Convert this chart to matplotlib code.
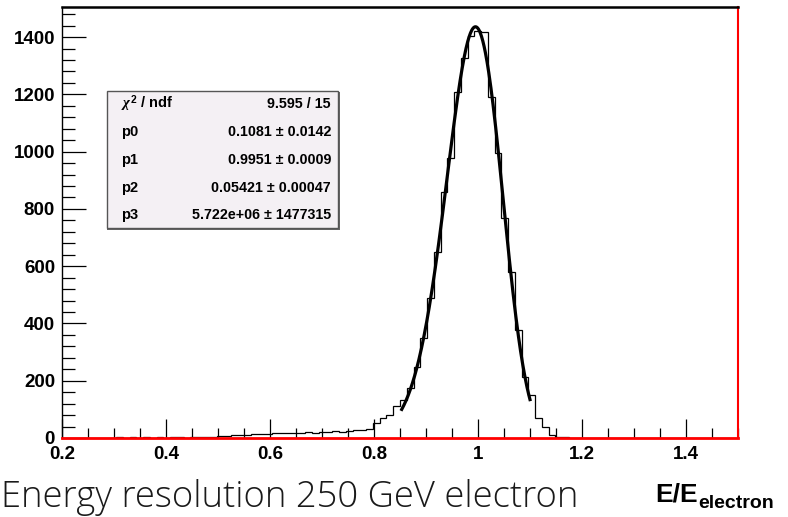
import numpy as np
import matplotlib
matplotlib.use("Agg")
import matplotlib.pyplot as plt
from matplotlib.patches import Rectangle
from matplotlib.ticker import MultipleLocator

plt.rcParams["font.family"] = ["Liberation Sans", "DejaVu Sans"]
plt.rcParams["font.weight"] = "bold"
plt.rcParams["mathtext.fontset"] = "custom"
plt.rcParams["mathtext.rm"] = "Liberation Sans:bold"
plt.rcParams["mathtext.bf"] = "Liberation Sans:bold"
plt.rcParams["mathtext.it"] = "Liberation Serif:italic"

# histogram: 100 bins between 0.2 and 1.5
x_min, x_max, n_bins = 0.2, 1.5, 100
counts = [0, 1, 0, 0, 1, 0, 1, 0, 2, 1,
          2, 1, 3, 1, 2, 1, 3, 2, 1, 2,
          4, 3, 5, 6, 7, 9, 11, 12, 14, 13,
          15, 16, 17, 18, 17, 19, 20, 19, 21, 22,
          23, 22, 25, 28, 29, 32, 53, 70, 80, 113,
          133, 175, 249, 349, 489, 650, 860, 977, 1209, 1327,
          1405, 1422, 1417, 1191, 995, 768, 579, 377, 214, 150,
          70, 39, 10, 4, 3, 1, 1, 0, 0, 0,
          0, 0, 0, 0, 0, 0, 0, 0, 0, 0,
          0, 0, 0, 0, 0, 0, 0, 0, 0, 0]

# fit result (Novosibirsk shape), as printed in the stats box
p0, p1, p2 = -0.1081, 0.9951, 0.05421
fit_peak = 1436
fit_lo, fit_hi = 0.8533, 1.100

stat_labels = [r"$\chi^{2}$ / ndf", "p0", "p1", "p2", "p3"]
stat_values = ["9.595 / 15", "0.1081 \u00b1 0.0142", "0.9951 \u00b1 0.0009",
               "0.05421 \u00b1 0.00047", "5.722e+06 \u00b1 1477315"]

W, H = 788, 517
fig = plt.figure(figsize=(W / 100, H / 100), dpi=100)
ax = fig.add_axes([62 / W, 1 - 438 / H, (738 - 62) / W, (438 - 7) / H])

edges = np.linspace(x_min, x_max, n_bins + 1)
ax.stairs(counts, edges, color="black", linewidth=0.9, zorder=2)

# fit curve
xs = np.linspace(fit_lo, fit_hi, 300)
k = np.sqrt(np.log(4))
lam = np.sinh(p0 * k) / (p2 * p0 * k)
ys = fit_peak * np.exp(-0.5 * (np.log(1 + lam * p0 * (xs - p1)) / p0) ** 2)
ax.plot(xs, ys, color="black", linewidth=2.3, zorder=3)

ax.set_xlim(x_min, x_max)
ax.set_ylim(0, 1505)
ax.xaxis.set_major_locator(MultipleLocator(0.2))
ax.xaxis.set_minor_locator(MultipleLocator(0.05))
ax.yaxis.set_major_locator(MultipleLocator(200))
ax.yaxis.set_minor_locator(MultipleLocator(40))
ax.xaxis.set_major_formatter(plt.FuncFormatter(lambda v, p: "%g" % round(v, 2)))

ax.tick_params(which="both", direction="in", top=False, right=False, width=0.9)
ax.tick_params(axis="y", which="major", length=17, labelsize=13.5, pad=5)
ax.tick_params(axis="y", which="minor", length=9)
ax.tick_params(axis="x", which="major", length=14, labelsize=13.5, pad=6)
ax.tick_params(axis="x", which="minor", length=7)

ax.spines["left"].set_linewidth(1.0)
ax.spines["top"].set_linewidth(1.8)
ax.spines["right"].set_color("red")
ax.spines["right"].set_linewidth(1.5)
ax.spines["bottom"].set_color("red")
ax.spines["bottom"].set_linewidth(2.0)

# stats box
bx0, bx1, by0, by1 = 107, 338, 91, 228
fig.patches.append(Rectangle((bx0 / W, 1 - (by1 + 1.5) / H), (bx1 - bx0 + 1.5) / W,
                             (by1 - by0) / H, transform=fig.transFigure,
                             facecolor="#666666", edgecolor="none", zorder=4))
fig.patches.append(Rectangle((bx0 / W, 1 - by1 / H), (bx1 - bx0) / W, (by1 - by0) / H,
                             transform=fig.transFigure, facecolor="#f4f0f4",
                             edgecolor="#555555", linewidth=1.0, zorder=5))
row_y = [104, 132, 160, 188, 215]
for lab, val, yy in zip(stat_labels, stat_values, row_y):
    fig.text(121 / W, 1 - yy / H, lab, ha="left", va="center", fontsize=10.5, zorder=6)
    fig.text(331 / W, 1 - yy / H, val, ha="right", va="center", fontsize=10.3, zorder=6)

# axis title: E/E with a large subscript
main = fig.text(655 / W, 1 - 502 / H, "E/E", ha="left", va="baseline", fontsize=19)
fig.canvas.draw()
mx = main.get_window_extent().x1
fig.text(mx / W + 1 / W, 1 - 508 / H, "electron", ha="left", va="baseline", fontsize=14)

cap = fig.text(1 / W, 1 - 507 / H, "Energy resolution 250 GeV electron", ha="left",
               va="baseline", fontsize=22, fontweight="light",
               family=["Open Sans", "DejaVu Sans"], color="#1a1a1a")
fig.canvas.draw()
wpx = cap.get_window_extent().width
cap.set_fontsize(22 * 576 / wpx)

fig.savefig("out.png", dpi=100)
